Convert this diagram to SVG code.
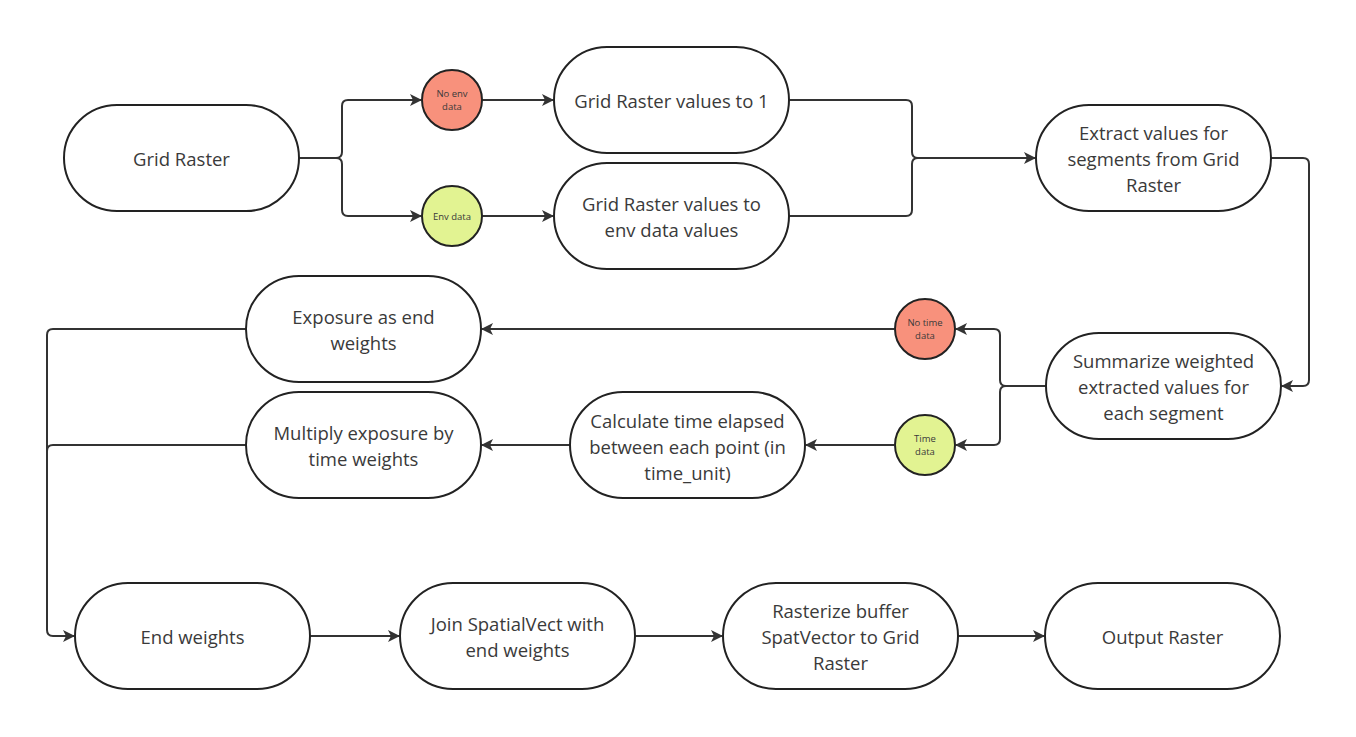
<svg xmlns="http://www.w3.org/2000/svg" width="1356" height="737" viewBox="0 0 1356 737">
<style>
.pill{fill:#fff;stroke:#222;stroke-width:2}
.red{fill:#F8917C;stroke:#222;stroke-width:2}
.green{fill:#E2F392;stroke:#222;stroke-width:2}
.t{font-family:"Open Sans","Liberation Sans",sans-serif;font-size:18.5px;fill:#3a3a3a;text-anchor:middle;dominant-baseline:central}
.s{font-family:"Open Sans","Liberation Sans",sans-serif;font-size:9.5px;fill:#3a3a3a;text-anchor:middle;dominant-baseline:central}
.c{fill:none;stroke:#333;stroke-width:2}
</style>
<defs>
<marker id="ah" viewBox="0 0 12 12" refX="11" refY="6" markerWidth="12" markerHeight="12" markerUnits="userSpaceOnUse" orient="auto">
<path d="M0,0 L12,6 L0,12 L3,6 Z" fill="#333"/>
</marker>
</defs>
<rect width="1356" height="737" fill="#fff"/>
<g id="connectors">
<path class="c" d="M299,158 H336 Q342,158 342,152 V106 Q342,100 348,100 H421" marker-end="url(#ah)"/>
<path class="c" d="M299,158 H336 Q342,158 342,164 V210 Q342,216 348,216 H421" marker-end="url(#ah)"/>
<path class="c" d="M482,100 H553" marker-end="url(#ah)"/>
<path class="c" d="M482,216 H553" marker-end="url(#ah)"/>
<path class="c" d="M789,100 H906 Q912,100 912,106 V152 Q912,158 918,158 H1035" marker-end="url(#ah)"/>
<path class="c" d="M789,216 H906 Q912,216 912,210 V164 Q912,158 918,158 H1030"/>
<path class="c" d="M1271,158 H1303 Q1309,158 1309,164 V380 Q1309,386 1303,386 H1282" marker-end="url(#ah)"/>
<path class="c" d="M1046,386 H1006 Q1000,386 1000,380 V335 Q1000,329 994,329 H956" marker-end="url(#ah)"/>
<path class="c" d="M1046,386 H1006 Q1000,386 1000,392 V439 Q1000,445 994,445 H956" marker-end="url(#ah)"/>
<path class="c" d="M894,329 H482" marker-end="url(#ah)"/>
<path class="c" d="M894,445 H806" marker-end="url(#ah)"/>
<path class="c" d="M570,445 H482" marker-end="url(#ah)"/>
<path class="c" d="M246,329 H53 Q47,329 47,335 V630 Q47,636 53,636 H74" marker-end="url(#ah)"/>
<path class="c" d="M246,445 H53 Q47,445 47,451 V630"/>
<path class="c" d="M310,636 H399" marker-end="url(#ah)"/>
<path class="c" d="M635,636 H722" marker-end="url(#ah)"/>
<path class="c" d="M958,636 H1044" marker-end="url(#ah)"/>
</g>
<g id="grid-raster"><rect class="pill" x="64" y="105" width="235" height="106" rx="53"/><text class="t" x="181.5" y="158">Grid Raster</text></g>
<g id="no-env-data"><circle class="red" cx="452" cy="100" r="30"/><text class="s" x="452" y="93.5">No env</text><text class="s" x="452" y="106.5">data</text></g>
<g id="env-data"><circle class="green" cx="452" cy="216" r="30"/><text class="s" x="452" y="216">Env data</text></g>
<g id="values-to-1"><rect class="pill" x="554" y="47" width="235" height="106" rx="53"/><text class="t" x="671.5" y="100">Grid Raster values to 1</text></g>
<g id="values-to-env"><rect class="pill" x="554" y="163" width="235" height="106" rx="53"/><text class="t" x="671.5" y="203">Grid Raster values to</text><text class="t" x="671.5" y="229">env data values</text></g>
<g id="extract"><rect class="pill" x="1036" y="105" width="235" height="106" rx="53"/><text class="t" x="1153.5" y="132">Extract values for</text><text class="t" x="1153.5" y="158">segments from Grid</text><text class="t" x="1153.5" y="184">Raster</text></g>
<g id="summarize"><rect class="pill" x="1046" y="333" width="235" height="106" rx="53"/><text class="t" x="1163.5" y="360">Summarize weighted</text><text class="t" x="1163.5" y="386">extracted values for</text><text class="t" x="1163.5" y="412">each segment</text></g>
<g id="no-time-data"><circle class="red" cx="925" cy="329" r="30"/><text class="s" x="925" y="322.5">No time</text><text class="s" x="925" y="335.5">data</text></g>
<g id="time-data"><circle class="green" cx="925" cy="445" r="30"/><text class="s" x="925" y="438.5">Time</text><text class="s" x="925" y="451.5">data</text></g>
<g id="exposure"><rect class="pill" x="246" y="276" width="235" height="106" rx="53"/><text class="t" x="363.5" y="316">Exposure as end</text><text class="t" x="363.5" y="342">weights</text></g>
<g id="multiply"><rect class="pill" x="246" y="392" width="235" height="106" rx="53"/><text class="t" x="363.5" y="432">Multiply exposure by</text><text class="t" x="363.5" y="458">time weights</text></g>
<g id="calculate"><rect class="pill" x="570" y="392" width="235" height="106" rx="53"/><text class="t" x="687.5" y="420">Calculate time elapsed</text><text class="t" x="687.5" y="446">between each point (in</text><text class="t" x="687.5" y="472">time_unit)</text></g>
<g id="end-weights"><rect class="pill" x="75" y="583" width="235" height="106" rx="53"/><text class="t" x="192.5" y="636">End weights</text></g>
<g id="join"><rect class="pill" x="400" y="583" width="235" height="106" rx="53"/><text class="t" x="517.5" y="623">Join SpatialVect with</text><text class="t" x="517.5" y="649">end weights</text></g>
<g id="rasterize"><rect class="pill" x="723" y="583" width="235" height="106" rx="53"/><text class="t" x="840.5" y="610">Rasterize buffer</text><text class="t" x="840.5" y="636">SpatVector to Grid</text><text class="t" x="840.5" y="662">Raster</text></g>
<g id="output"><rect class="pill" x="1045" y="583" width="235" height="106" rx="53"/><text class="t" x="1162.5" y="636">Output Raster</text></g>
</svg>
